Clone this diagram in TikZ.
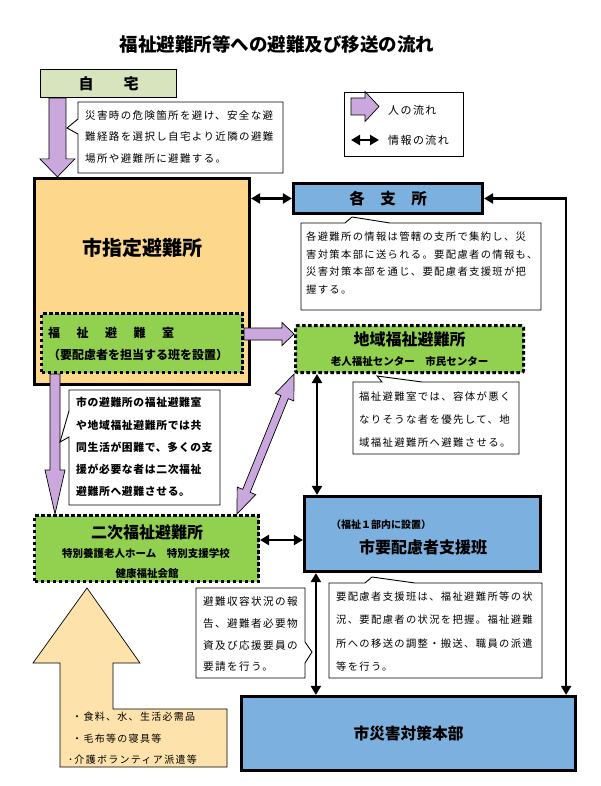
\documentclass[tikz,border=0pt]{standalone}
\usepackage{fontspec}
\setmainfont{Noto Sans CJK JP}
\newfontfamily\callfont[LetterSpace=13]{Noto Sans CJK JP}
\newfontfamily\callboldfont[LetterSpace=6]{Noto Sans CJK JP}
\usepackage{tikz}
\usetikzlibrary{arrows.meta, calc}
\definecolor{figO}{RGB}{215,228,189}
\definecolor{figY}{RGB}{253,216,140}
\definecolor{figG}{RGB}{146,208,80}
\definecolor{figB}{RGB}{124,176,222}
\definecolor{figP}{RGB}{202,168,221}
\definecolor{figS}{RGB}{253,226,172}
\tikzset{nbox/.style={draw, line width=3.2pt, inner sep=0pt},
  ndot/.style={draw, line width=3pt, dash pattern=on 3.5pt off 2.5pt, fill=figG, inner sep=0pt},
  ncall/.style={draw, line width=0.9pt, fill=white},
  ntext/.style={anchor=north west, inner sep=0pt, align=left},
  ninfo/.style={line width=2.6pt, <->, >={Triangle[length=9pt,width=10pt]}},
  nflow/.style={draw, line width=0.7pt, fill=figP}}
% block arrows: from, to, half shaft, half head, head length
\newcommand\pflow[5]{%
  \coordinate (pf-n) at ($(#2)!#5!(#1)$);
  \draw[nflow] ($(#1)!#3!90:(#2)$) -- ($(pf-n)!#3!90:(#2)$) -- ($(pf-n)!#4!90:(#2)$)
    -- (#2) -- ($(pf-n)!#4!-90:(#2)$) -- ($(pf-n)!#3!-90:(#2)$) -- ($(#1)!#3!-90:(#2)$) -- cycle;}
\newcommand\pflowtwo[5]{%
  \coordinate (pf-n) at ($(#2)!#5!(#1)$);
  \coordinate (pf-m) at ($(#1)!#5!(#2)$);
  \draw[nflow] (#1) -- ($(pf-m)!#4!90:(#2)$) -- ($(pf-m)!#3!90:(#2)$) -- ($(pf-n)!#3!90:(#2)$)
    -- ($(pf-n)!#4!90:(#2)$) -- (#2) -- ($(pf-n)!#4!-90:(#2)$) -- ($(pf-n)!#3!-90:(#2)$)
    -- ($(pf-m)!#3!-90:(#2)$) -- ($(pf-m)!#4!-90:(#2)$) -- cycle;}
\newcommand\wsp{\hspace{16.5pt}}

\begin{document}
\begin{tikzpicture}[x=1pt, y=-1pt]
\useasboundingbox (0,0) rectangle (600,786);
\node[font=\fontsize{18.5}{18.5}\selectfont\bfseries] (title) at (277,44) {福祉避難所等への避難及び移送の流れ};
% boxes
\node[nbox, line width=1.2pt, fill=figO, minimum width=136pt, minimum height=28pt, font=\fontsize{15}{15}\selectfont\bfseries] (home) at (108.5,83.5) {自　　宅};
\node[nbox, fill=figY, minimum width=215pt, minimum height=206pt] (shelter) at (142,281.5) {};
\node[font=\fontsize{20}{20}\selectfont\bfseries] (shelterlbl) at (142,248) {市指定避難所};
\node[ndot, minimum width=201pt, minimum height=59pt] (room) at (142,343) {};
\node[ntext, font=\fontsize{12}{22}\selectfont\bfseries] (roomlbl) at (48,327) {福\wsp 祉\wsp 避\wsp 難\wsp 室\\（要配慮者を担当する班を設置）};
\node[nbox, fill=figB, minimum width=189pt, minimum height=30pt, font=\fontsize{15.5}{15.5}\selectfont\bfseries] (branch) at (388,198.5) {各　支　所};
\node[ndot, rounded corners=2pt, minimum width=228pt, minimum height=47pt] (local) at (409.5,349) {};
\node[font=\fontsize{16}{16}\selectfont\bfseries] (locallbl) at (409.5,339) {地域福祉避難所};
\node[font=\fontsize{10.5}{10.5}\selectfont\bfseries] (localsub) at (409.5,361) {老人福祉センター　市民センター};
\node[ndot, minimum width=224pt, minimum height=66pt] (second) at (146.5,548.5) {};
\node[font=\fontsize{16}{16}\selectfont\bfseries] (secondlbl) at (147,532) {二次福祉避難所};
\node[font=\fontsize{10.5}{10.5}\selectfont\bfseries] (secondsub) at (146,553) {特別養護老人ホーム　特別支援学校};
\node[font=\fontsize{10.5}{10.5}\selectfont\bfseries] (secondsub2) at (147,574) {健康福祉会館};
\node[nbox, fill=figB, minimum width=236pt, minimum height=75pt] (support) at (422.5,534) {};
\node[font=\fontsize{10}{10}\selectfont\bfseries, anchor=west, inner sep=0pt] (supportsub) at (331,525) {（福祉１部内に設置）};
\node[font=\fontsize{16}{16}\selectfont\bfseries] (supportlbl) at (423,547) {市要配慮者支援班};
\node[nbox, fill=figB, minimum width=334pt, minimum height=74pt, font=\fontsize{15.7}{15.7}\selectfont\bfseries] (hq) at (408.5,733.5) {市災害対策本部};
% legend
\node[draw, line width=0.8pt, minimum width=119pt, minimum height=64pt] (legend) at (404,124.5) {};
\coordinate (lp1) at (351,106.5);
\coordinate (lp2) at (379,106.5);
\pflow{lp1}{lp2}{8.5pt}{15pt}{14pt}
\coordinate (li1) at (351,140);
\coordinate (li2) at (379,140);
\draw[ninfo] (li1) -- (li2);
\node[font=\callfont\fontsize{11}{11}\selectfont, anchor=west, inner sep=0pt] (lg1) at (388,110) {人の流れ};
\node[font=\callfont\fontsize{11}{11}\selectfont, anchor=west, inner sep=0pt] (lg2) at (388,140) {情報の流れ};
% people flow
\coordinate (ha) at ([xshift=17.5pt]home.south west);
\coordinate (hb) at (ha |- shelter.north);
\pflow{ha}{hb}{8.5pt}{17.5pt}{18pt}
\coordinate (ra) at ($(room.east)+(0,-9)$);
\coordinate (rb) at (ra -| local.west);
\pflow{ra}{rb}{6pt}{11.5pt}{12pt}
\coordinate (rc) at ([xshift=15pt]room.south west);
\coordinate (rd) at (rc |- second.north);
\pflow{rc}{rd}{5pt}{10pt}{44pt}
\coordinate (la) at (local.south west);
\coordinate (sa) at ([xshift=-23pt]second.north east);
\pflowtwo{sa}{la}{4pt}{10pt}{25pt}
% supplies
\draw[line width=0.7pt, fill=figS] (87,588) -- (140,663) -- (113,663) -- (113,709) -- (227,709) -- (227,767) -- (60,767) -- (60,663) -- (33,663) -- cycle;
\node[ntext, font=\callfont\fontsize{10}{21.5}\selectfont] (supplytxt) at (68,712) {\hspace{4pt}・食料、水、生活必需品\\\hspace{4pt}・毛布等の寝具等\\･介護ボランティア派遣等};
% information flow
\draw[ninfo] (shelter.east |- branch.west) -- (branch.west);
\coordinate (lb) at ([xshift=23pt]local.south west);
\draw[ninfo] (lb) -- (lb |- support.north);
\coordinate (sb) at ($(second.east)+(0,-8.5)$);
\draw[ninfo] (sb) -- (sb -| support.west);
\coordinate (ub) at ([xshift=13pt]support.south west);
\draw[ninfo] (ub) -- (ub |- hq.north);
\coordinate (rl) at ([xshift=-11pt]hq.north east);
\draw[ninfo] (branch.east) -| (rl);
% callouts
\draw[ncall] (78,102) -- (283,102) -- (283,173) -- (78,173) -- (78,134) -- (67,128) -- (78,119) -- cycle;
\node[ntext, font=\callfont\fontsize{10.5}{21.5}\selectfont] (c1txt) at (85,110) {災害時の危険箇所を避け、安全な避\\難経路を選択し自宅より近隣の避難\\場所や避難所に避難する。};
\draw[ncall] (301,223) -- (345,223) -- (352,217) -- (390,223) -- (541,223) -- (541,310) -- (301,310) -- cycle;
\node[ntext, font=\callfont\fontsize{10.3}{17.5}\selectfont] (c2txt) at (306,232) {各避難所の情報は管轄の支所で集約し、災\\害対策本部に送られる。要配慮者の情報も、\\災害対策本部を通じ、要配慮者支援班が把\\握する。};
\draw[ncall] (353,382) -- (382,382) -- (377,376) -- (422,382) -- (519,382) -- (519,454) -- (353,454) -- cycle;
\node[ntext, font=\callfont\fontsize{10.4}{23}\selectfont] (c3txt) at (359,391.5) {福祉避難室では、容体が悪く\\なりそうな者を優先して、地\\域福祉避難所へ避難させる。};
\draw[ncall] (69,390) -- (220,390) -- (220,505) -- (69,505) -- (69,437) -- (60,442) -- (69,411) -- cycle;
\node[ntext, font=\callboldfont\fontsize{10.8}{22.2}\selectfont\bfseries] (c4txt) at (76,397.5) {市の避難所の福祉避難室\\や地域福祉避難所では共\\同生活が困難で、多くの支\\援が必要な者は二次福祉\\避難所へ避難させる。};
\draw[ncall] (196,588) -- (305,588) -- (305,642) -- (312,652) -- (305,663) -- (305,678) -- (196,678) -- cycle;
\node[ntext, font=\callfont\fontsize{10.6}{21.7}\selectfont] (c5txt) at (203,596.5) {避難収容状況の報\\告、避難者必要物\\資及び応援要員の\\要請を行う。};
\draw[ncall] (329,583) -- (365,583) -- (372,577) -- (415,583) -- (542,583) -- (542,678) -- (329,678) -- cycle;
\node[ntext, font=\callfont\fontsize{10.3}{23.3}\selectfont] (c6txt) at (336,591.5) {要配慮者支援班は、福祉避難所等の状\\況、要配慮者の状況を把握。福祉避難\\所への移送の調整・搬送、職員の派遣\\等を行う。};
\end{tikzpicture}
\end{document}
